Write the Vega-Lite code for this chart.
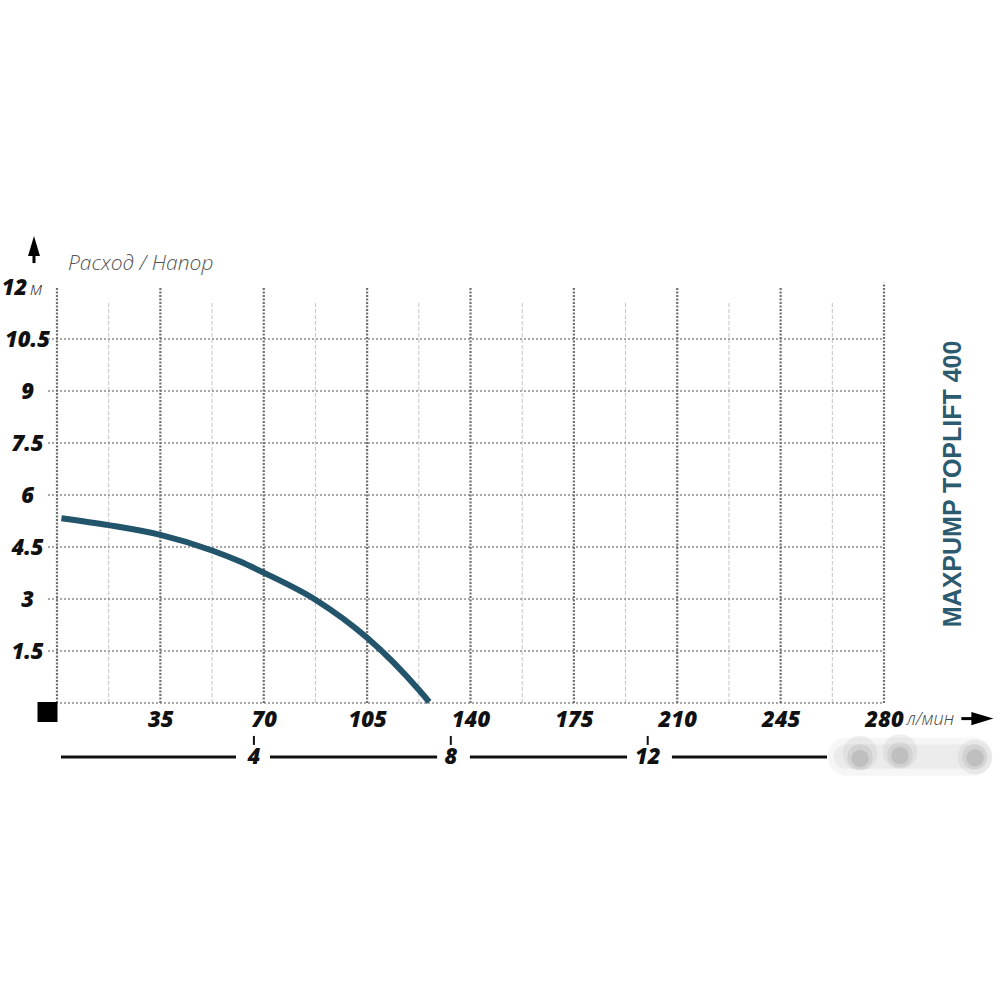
{
  "$schema": "https://vega.github.io/schema/vega-lite/v6.json",
  "autosize": {"type": "none"},
  "width": 827,
  "height": 416,
  "padding": {"left": 57, "top": 287, "right": 116, "bottom": 297},
  "background": "white",
  "config": {"view": {"stroke": null}},
  "encoding": {
    "x": {
      "field": "q", "type": "quantitative",
      "scale": {"domain": [0, 280], "nice": false, "zero": false},
      "axis": {
        "values": [35, 70, 105, 140, 175, 210, 245, 280],
        "title": null, "grid": false, "domain": false, "ticks": false,
        "labelFont": "Open Sans", "labelFontSize": 22, "labelFontWeight": 800, "labelFontStyle": "italic",
        "labelColor": "#111", "labelPadding": 16, "labelBaseline": "middle", "labelOverlap": false, "labelFlush": false
      }
    },
    "y": {
      "field": "h", "type": "quantitative",
      "scale": {"domain": [0, 12], "nice": false, "zero": false},
      "axis": {
        "values": [1.5, 3, 4.5, 6, 7.5, 9, 10.5, 12],
        "format": ".1~f",
        "title": null, "grid": false, "domain": false, "ticks": false,
        "labelFont": "Open Sans", "labelFontSize": 22, "labelFontWeight": 800, "labelFontStyle": "italic",
        "labelColor": "#111", "labelAlign": "center", "labelBaseline": "middle",
        "labelPadding": {"condition": {"test": "datum.value == 12", "value": 43}, "value": 30},
        "labelOverlap": false, "labelFlush": false
      }
    }
  },
  "layer": [
    {
      "data": {"values": [
        {"q": 17.5, "h": 0, "h2": 11.55}, {"q": 52.5, "h": 0, "h2": 11.55}, {"q": 87.5, "h": 0, "h2": 11.55},
        {"q": 122.5, "h": 0, "h2": 11.55}, {"q": 157.5, "h": 0, "h2": 11.55}, {"q": 192.5, "h": 0, "h2": 11.55},
        {"q": 227.5, "h": 0, "h2": 11.55}, {"q": 262.5, "h": 0, "h2": 11.55}
      ]},
      "mark": {"type": "rule", "stroke": "#c4c4c4", "strokeWidth": 1, "strokeDash": [4, 2]},
      "encoding": {"y2": {"field": "h2"}}
    },
    {
      "data": {"values": [
        {"h": 0, "q": -3.05, "q2": 280}, {"h": 1.5, "q": -3.05, "q2": 280}, {"h": 3, "q": -3.05, "q2": 280},
        {"h": 4.5, "q": -3.05, "q2": 280}, {"h": 6, "q": -3.05, "q2": 280}, {"h": 7.5, "q": -3.05, "q2": 280},
        {"h": 9, "q": -3.05, "q2": 280}, {"h": 10.5, "q": -3.05, "q2": 280}
      ]},
      "mark": {"type": "rule", "stroke": "#8a8a8a", "strokeWidth": 1.5, "strokeDash": [2, 2]},
      "encoding": {"x2": {"field": "q2"}}
    },
    {
      "data": {"values": [
        {"q": 0, "h": 0, "h2": 12}, {"q": 35, "h": 0, "h2": 12}, {"q": 70, "h": 0, "h2": 12},
        {"q": 105, "h": 0, "h2": 12}, {"q": 140, "h": 0, "h2": 12}, {"q": 175, "h": 0, "h2": 12},
        {"q": 210, "h": 0, "h2": 12}, {"q": 245, "h": 0, "h2": 12}, {"q": 280, "h": 0, "h2": 12.12}
      ]},
      "mark": {"type": "rule", "stroke": "#707070", "strokeWidth": 2.2, "strokeDash": [2, 1.5]},
      "encoding": {"y2": {"field": "h2"}}
    },
    {
      "data": {"values": [
        {"q": 1.5, "h": 5.33}, {"q": 17.5, "h": 5.13}, {"q": 35, "h": 4.85}, {"q": 52.5, "h": 4.4},
        {"q": 62, "h": 4.08}, {"q": 70, "h": 3.76}, {"q": 87.5, "h": 2.98}, {"q": 105, "h": 1.88},
        {"q": 113.9, "h": 1.17}, {"q": 122.5, "h": 0.38}, {"q": 126, "h": 0.03}
      ]},
      "mark": {"type": "line", "stroke": "#22546b", "strokeWidth": 6, "interpolate": "monotone", "strokeCap": "butt"}
    },
    {
      "data": {"values": [
        {"q": 1.35, "q2": 60.6, "h": -1.56}, {"q": 72.1, "q2": 128.7, "h": -1.56},
        {"q": 139.8, "q2": 193, "h": -1.56}, {"q": 208.2, "q2": 260.7, "h": -1.56}
      ]},
      "mark": {"type": "rule", "stroke": "#111", "strokeWidth": 3},
      "encoding": {"x2": {"field": "q2"}}
    },
    {
      "data": {"values": [
        {"q": 66.67, "h": -0.95, "h2": -1.21}, {"q": 133.33, "h": -0.95, "h2": -1.21}, {"q": 200, "h": -0.95, "h2": -1.21}
      ]},
      "mark": {"type": "rule", "stroke": "#111", "strokeWidth": 2},
      "encoding": {"y2": {"field": "h2"}}
    },
    {
      "data": {"values": [
        {"q": 66.67, "h": -1.56, "label": "4"}, {"q": 133.33, "h": -1.56, "label": "8"}, {"q": 200, "h": -1.56, "label": "12"}
      ]},
      "mark": {"type": "text", "font": "Open Sans", "fontSize": 22, "fontWeight": 800, "fontStyle": "italic", "color": "#111", "align": "center", "baseline": "middle"},
      "encoding": {"text": {"field": "label"}}
    },
    {
      "data": {"values": [{"q": 261, "q2": 316.5, "h": -1.0, "h2": -2.1}]},
      "mark": {"type": "rect", "color": "#f0f0f0", "opacity": 0.6, "cornerRadius": 18},
      "encoding": {"x2": {"field": "q2"}, "y2": {"field": "h2"}}
    },
    {
      "data": {"values": [{"q": 263, "q2": 314.5, "h": -1.2, "h2": -1.9}]},
      "mark": {"type": "rect", "color": "#e4e4e4", "opacity": 0.6, "cornerRadius": 12},
      "encoding": {"x2": {"field": "q2"}, "y2": {"field": "h2"}}
    },
    {
      "data": {"values": [{"q": 271.9, "h": -1.45}, {"q": 285.4, "h": -1.4}, {"q": 310.8, "h": -1.56}]},
      "mark": {"type": "point", "shape": "circle", "filled": true, "color": "#c0c0c0", "opacity": 0.25, "size": 1200}
    },
    {
      "data": {"values": [{"q": 271.9, "h": -1.56}, {"q": 285.4, "h": -1.5}, {"q": 310.8, "h": -1.56}]},
      "mark": {"type": "point", "shape": "circle", "filled": true, "color": "#a8a8a8", "opacity": 0.25, "size": 650}
    },
    {
      "data": {"values": [{"q": 271.9, "h": -1.6}, {"q": 285.4, "h": -1.52}, {"q": 310.8, "h": -1.58}]},
      "mark": {"type": "point", "shape": "circle", "filled": true, "color": "#888", "opacity": 0.25, "size": 300}
    },
    {
      "data": {"values": [{"q": -3.22, "h": -0.26}]},
      "mark": {"type": "point", "shape": "square", "filled": true, "color": "#000", "opacity": 1, "size": 400}
    },
    {
      "data": {"values": [{"q": -7.79, "h": 12.69, "h2": 13.05}]},
      "mark": {"type": "rule", "stroke": "#000", "strokeWidth": 3},
      "encoding": {"y2": {"field": "h2"}}
    },
    {
      "data": {"values": [{"q": -7.79, "h": 13.18}]},
      "mark": {"type": "point", "shape": "M0,-1L0.6,1L-0.6,1Z", "filled": true, "color": "#000", "opacity": 1, "size": 400}
    },
    {
      "data": {"values": [{"q": 306.2, "q2": 310.3, "h": -0.45}]},
      "mark": {"type": "rule", "stroke": "#000", "strokeWidth": 3},
      "encoding": {"x2": {"field": "q2"}}
    },
    {
      "data": {"values": [{"q": 313.3, "h": -0.45}]},
      "mark": {"type": "point", "shape": "M1,0L-1,-0.6L-1,0.6Z", "filled": true, "color": "#000", "opacity": 1, "size": 484}
    },
    {
      "data": {"values": [{"q": 3.72, "h": 12.49, "label": "Расход / Напор"}]},
      "mark": {"type": "text", "font": "Open Sans", "fontSize": 21, "fontWeight": 300, "fontStyle": "italic", "color": "#555", "align": "left", "baseline": "alphabetic"},
      "encoding": {"text": {"field": "label"}}
    },
    {
      "data": {"values": [{"q": -9.14, "h": 11.93, "label": "м"}]},
      "mark": {"type": "text", "font": "Open Sans", "fontSize": 19, "fontWeight": 300, "fontStyle": "italic", "color": "#333", "align": "left", "baseline": "middle"},
      "encoding": {"text": {"field": "label"}}
    },
    {
      "data": {"values": [{"q": 287.6, "h": -0.64, "label": "л/мин"}]},
      "mark": {"type": "text", "font": "Open Sans", "fontSize": 18, "fontWeight": 300, "fontStyle": "italic", "color": "#444", "align": "left", "baseline": "alphabetic"},
      "encoding": {"text": {"field": "label"}}
    },
    {
      "data": {"values": [{"q": 303.2, "h": 6.32, "label": "MAXPUMP TOPLIFT 400"}]},
      "mark": {"type": "text", "font": "Liberation Sans", "fontSize": 25, "fontWeight": "bold", "color": "#2c5a6e", "align": "center", "baseline": "middle", "angle": 270},
      "encoding": {"text": {"field": "label"}}
    }
  ]
}
